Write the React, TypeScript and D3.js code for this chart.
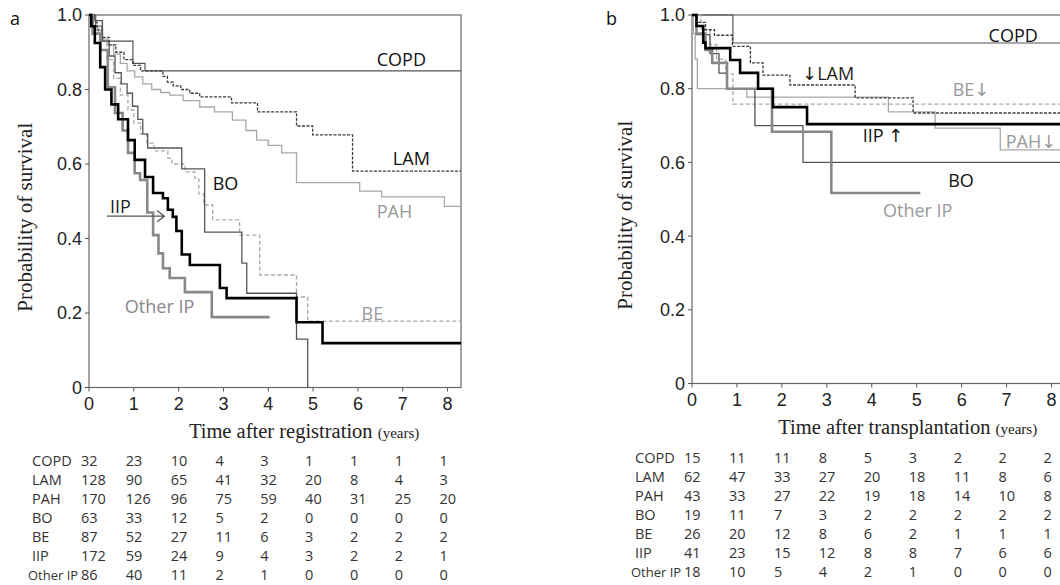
import React from "react";
import * as d3 from "d3";

type Pt = [number, number];

// panel a: survival after registration
const regCOPD: Pt[] = [[0, 1], [0.15, 0.97], [0.29, 0.93], [0.98, 0.87], [1.25, 0.85]];
const regLAM: Pt[] = [[0, 1], [0.08, 0.98], [0.18, 0.96], [0.3, 0.94], [0.45, 0.92], [0.6, 0.9], [0.78, 0.88], [0.98, 0.865], [1.15, 0.85], [1.65, 0.835], [1.75, 0.82], [1.88, 0.81], [2.05, 0.8], [2.25, 0.79], [2.47, 0.78], [3.18, 0.764], [3.76, 0.74], [4.63, 0.702], [4.99, 0.678], [5.88, 0.581]];
const regPAH: Pt[] = [[0, 1], [0.1, 0.97], [0.2, 0.95], [0.3, 0.935], [0.42, 0.92], [0.55, 0.895], [0.7, 0.87], [0.85, 0.85], [1.02, 0.834], [1.2, 0.815], [1.4, 0.8], [1.6, 0.792], [1.8, 0.785], [2.1, 0.77], [2.47, 0.753], [2.8, 0.74], [3.2, 0.718], [3.5, 0.69], [3.74, 0.664], [4.0, 0.65], [4.3, 0.63], [4.63, 0.55], [6.04, 0.527], [6.53, 0.512], [7.93, 0.486]];
const regBO: Pt[] = [[0, 1], [0.13, 0.985], [0.3, 0.93], [0.45, 0.89], [0.58, 0.845], [0.72, 0.815], [0.85, 0.79], [0.97, 0.755], [1.09, 0.72], [1.2, 0.68], [1.31, 0.643], [2.07, 0.587], [2.58, 0.417], [3.41, 0.334], [3.52, 0.253], [4.63, 0.13], [4.88, 0]];
const regBE: Pt[] = [[0, 1], [0.1, 0.97], [0.25, 0.93], [0.4, 0.88], [0.55, 0.83], [0.7, 0.785], [0.87, 0.745], [1.0, 0.71], [1.15, 0.68], [1.29, 0.656], [1.45, 0.635], [1.76, 0.616], [1.85, 0.6], [2.14, 0.579], [2.36, 0.562], [2.45, 0.52], [2.56, 0.49], [2.76, 0.45], [3.36, 0.409], [3.81, 0.302], [4.63, 0.243], [4.88, 0.178]];
const regIIP: Pt[] = [[0, 1], [0.05, 0.97], [0.13, 0.925], [0.25, 0.86], [0.36, 0.8], [0.5, 0.76], [0.65, 0.72], [0.87, 0.664], [1.02, 0.611], [1.25, 0.565], [1.43, 0.522], [1.65, 0.508], [1.76, 0.477], [1.87, 0.458], [1.95, 0.42], [2.07, 0.357], [2.25, 0.329], [2.92, 0.267], [3.07, 0.24], [4.63, 0.175], [5.21, 0.119]];
const regOther: Pt[] = [[0, 1], [0.08, 0.95], [0.25, 0.906], [0.42, 0.806], [0.58, 0.737], [0.75, 0.69], [0.87, 0.63], [1.02, 0.575], [1.14, 0.557], [1.3, 0.47], [1.43, 0.409], [1.55, 0.36], [1.65, 0.32], [1.8, 0.294], [2.14, 0.256], [2.74, 0.189]];

// panel b: survival after transplantation
const txCOPD: Pt[] = [[0, 1], [0.91, 0.924]];
const txLAM: Pt[] = [[0, 1], [0.1, 0.98], [0.3, 0.96], [0.5, 0.945], [0.9, 0.915], [1.3, 0.87], [1.58, 0.837], [2.18, 0.81], [3.63, 0.775], [4.92, 0.734]];
const txPAH: Pt[] = [[0, 1], [0.03, 0.95], [0.07, 0.88], [0.12, 0.8], [1.22, 0.777], [4.37, 0.737], [5.41, 0.693], [6.86, 0.634]];
const txBO: Pt[] = [[0, 1], [0.1, 0.947], [0.4, 0.895], [0.6, 0.842], [0.78, 0.8], [1.4, 0.7], [2.47, 0.6]];
const txBE: Pt[] = [[0, 1], [0.2, 0.96], [0.4, 0.92], [0.55, 0.88], [0.75, 0.84], [0.91, 0.758]];
const txIIP: Pt[] = [[0, 1], [0.1, 0.97], [0.25, 0.925], [0.3, 0.91], [0.85, 0.878], [1.07, 0.843], [1.47, 0.8], [1.8, 0.75], [2.56, 0.704]];
const txOther: Pt[] = [[0, 1], [0.1, 0.95], [0.3, 0.905], [0.45, 0.87], [0.78, 0.8], [1.78, 0.683], [3.1, 0.517]];

// numbers at risk
const groups = ["COPD", "LAM", "PAH", "BO", "BE", "IIP", "Other IP"];
const riskReg = [
  [32, 23, 10, 4, 3, 1, 1, 1, 1],
  [128, 90, 65, 41, 32, 20, 8, 4, 3],
  [170, 126, 96, 75, 59, 40, 31, 25, 20],
  [63, 33, 12, 5, 2, 0, 0, 0, 0],
  [87, 52, 27, 11, 6, 3, 2, 2, 2],
  [172, 59, 24, 9, 4, 3, 2, 2, 1],
  [86, 40, 11, 2, 1, 0, 0, 0, 0],
];
const riskTx = [
  [15, 11, 11, 8, 5, 3, 2, 2, 2],
  [62, 47, 33, 27, 20, 18, 11, 8, 6],
  [43, 33, 27, 22, 19, 18, 14, 10, 8],
  [19, 11, 7, 3, 2, 2, 2, 2, 2],
  [26, 20, 12, 8, 6, 2, 1, 1, 1],
  [41, 23, 15, 12, 8, 8, 7, 6, 6],
  [18, 10, 5, 4, 2, 1, 0, 0, 0],
];
const xTicks = [0, 1, 2, 3, 4, 5, 6, 7, 8];
const yTicks = [0, 0.2, 0.4, 0.6, 0.8, 1.0];

const SANS = "'Open Sans', 'DejaVu Sans', sans-serif";
const SERIF = "'Liberation Serif', 'Times New Roman', serif";
const AXIS_FONT = "'Liberation Sans', Arial, sans-serif";

const styles: Record<string, { stroke: string; width: number; dash?: string }> = {
  COPD: { stroke: "#555", width: 1.2 },
  LAM: { stroke: "#3a3a3a", width: 1.3, dash: "3,1.5" },
  PAH: { stroke: "#a8a8a8", width: 1.3 },
  BO: { stroke: "#555", width: 1.3 },
  BE: { stroke: "#a8a8a8", width: 1.3, dash: "4,2.5" },
  IIP: { stroke: "#000", width: 2.6 },
  "Other IP": { stroke: "#888", width: 2.6 },
};

type Curve = { name: string; pts: Pt[]; end: number };
type Label = { text: string; t: number; p: number; color: string };

interface PanelProps {
  letter: string;
  letterX: number;
  x0: number;
  x1: number;
  yTop: number;
  yBot: number;
  curves: Curve[];
  labels: Label[];
  title: string;
  risk: number[][];
  tableTop: number;
  labelX: number;
  yTitleX: number;
  iipArrow?: boolean;
}

function Panel(props: PanelProps) {
  const { x0, x1, yTop, yBot, curves, labels, risk } = props;
  const x = d3.scaleLinear().domain([0, 8.3]).range([x0, x1]);
  const y = d3.scaleLinear().domain([0, 1]).range([yBot, yTop]);
  const line = d3
    .line<Pt>()
    .x((d) => x(d[0]))
    .y((d) => y(d[1]))
    .curve(d3.curveStepAfter);

  return (
    <g>
      <text x={props.letterX} y={yTop + 10} fontFamily={SANS} fontSize={18} fill="#111">
        {props.letter}
      </text>
      {/* frame */}
      <rect x={x0} y={yTop} width={x1 - x0} height={yBot - yTop} fill="none" stroke="#666" strokeWidth={1.2} />
      {/* curves */}
      {curves.map((c) => {
        const s = styles[c.name];
        const last = c.pts[c.pts.length - 1];
        const pts: Pt[] = [...c.pts, [c.end, last[1]]];
        return (
          <path
            key={c.name}
            d={line(pts) || ""}
            fill="none"
            stroke={s.stroke}
            strokeWidth={s.width}
            strokeDasharray={s.dash}
          />
        );
      })}
      {/* y axis ticks */}
      {yTicks.map((v) => (
        <g key={"y" + v}>
          <line x1={x0 - 4} x2={x0} y1={y(v)} y2={y(v)} stroke="#555" />
          <text
            x={x0 - 7}
            y={y(v)}
            dy="0.36em"
            textAnchor="end"
            fontFamily={AXIS_FONT}
            fontSize={18}
            fill="#222"
          >
            {v === 0 ? "0" : d3.format(".1f")(v)}
          </text>
        </g>
      ))}
      {/* x axis ticks */}
      {xTicks.map((v) => (
        <g key={"x" + v}>
          <line x1={x(v)} x2={x(v)} y1={yBot} y2={yBot + 4} stroke="#555" />
          <text x={x(v)} y={yBot + 22} textAnchor="middle" fontFamily={AXIS_FONT} fontSize={18} fill="#222">
            {v}
          </text>
        </g>
      ))}
      <text
        transform={`translate(${props.yTitleX},${(yTop + yBot) / 2 + 16}) rotate(-90)`}
        textAnchor="middle"
        fontFamily={SERIF}
        fontSize={21}
        fill="#222"
      >
        Probability of survival
      </text>
      <text x={x(4.8)} y={yBot + 50} textAnchor="middle" fontFamily={SERIF} fontSize={20.5} fill="#222">
        {props.title} <tspan fontSize={15}>(years)</tspan>
      </text>
      {/* curve labels */}
      {labels.map((l) => (
        <text key={l.text} x={x(l.t)} y={y(l.p)} fontFamily={SANS} fontSize={18} fill={l.color}>
          {l.text}
        </text>
      ))}
      {props.iipArrow && (
        <path
          d={`M${x(0.4)},${y(0.46)} H${x(1.68)} M${x(1.52)},${y(0.475)} L${x(1.68)},${y(0.46)} L${x(1.52)},${y(0.445)}`}
          fill="none"
          stroke="#555"
          strokeWidth={1.3}
        />
      )}
      {/* at risk table */}
      {groups.map((g, i) => {
        const long = g === "Other IP";
        return (
          <g key={g} fontFamily={SANS} fontSize={14.5} fill="#333">
            <text
              x={long ? x(0) - 61 : props.labelX}
              y={props.tableTop + i * 19}
              fontSize={long ? 13 : undefined}
            >
              {g}
            </text>
            {risk[i].map((n, j) => (
              <text key={j} x={x(xTicks[j]) - 8} y={props.tableTop + i * 19}>
                {n}
              </text>
            ))}
          </g>
        );
      })}
    </g>
  );
}

export default function App() {
  const curvesA: Curve[] = [
    { name: "COPD", pts: regCOPD, end: 8.3 },
    { name: "PAH", pts: regPAH, end: 8.3 },
    { name: "BE", pts: regBE, end: 8.3 },
    { name: "LAM", pts: regLAM, end: 8.3 },
    { name: "BO", pts: regBO, end: 4.88 },
    { name: "Other IP", pts: regOther, end: 4.03 },
    { name: "IIP", pts: regIIP, end: 8.3 },
  ];
  const curvesB: Curve[] = [
    { name: "COPD", pts: txCOPD, end: 8.3 },
    { name: "PAH", pts: txPAH, end: 8.3 },
    { name: "BE", pts: txBE, end: 8.3 },
    { name: "LAM", pts: txLAM, end: 8.3 },
    { name: "BO", pts: txBO, end: 8.3 },
    { name: "Other IP", pts: txOther, end: 5.08 },
    { name: "IIP", pts: txIIP, end: 8.3 },
  ];
  const labelsA: Label[] = [
    { text: "COPD", t: 6.42, p: 0.863, color: "#111" },
    { text: "LAM", t: 6.78, p: 0.598, color: "#111" },
    { text: "PAH", t: 6.42, p: 0.455, color: "#999" },
    { text: "BO", t: 2.76, p: 0.53, color: "#111" },
    { text: "BE", t: 6.08, p: 0.181, color: "#999" },
    { text: "IIP", t: 0.47, p: 0.468, color: "#222" },
    { text: "Other IP", t: 0.8, p: 0.2, color: "#888" },
  ];
  const labelsB: Label[] = [
    { text: "COPD", t: 6.6, p: 0.927, color: "#111" },
    { text: "\u2193LAM", t: 2.45, p: 0.823, color: "#222" },
    { text: "BE\u2193", t: 5.8, p: 0.78, color: "#999" },
    { text: "IIP \u2191", t: 3.8, p: 0.655, color: "#111" },
    { text: "PAH\u2193", t: 6.98, p: 0.64, color: "#999" },
    { text: "BO", t: 5.7, p: 0.533, color: "#111" },
    { text: "Other IP", t: 4.25, p: 0.451, color: "#999" },
  ];
  return (
    <svg
      width={1060}
      height={585}
      style={{ position: "absolute", left: 0, top: 0, background: "#fff" }}
    >
      <Panel
        letter="a"
        letterX={10}
        x0={89}
        x1={461}
        yTop={15}
        yBot={387.5}
        curves={curvesA}
        labels={labelsA}
        title="Time after registration"
        risk={riskReg}
        tableTop={466}
        labelX={32}
        yTitleX={32}
        iipArrow
      />
      <Panel
        letter="b"
        letterX={606}
        x0={692}
        x1={1065}
        yTop={15}
        yBot={383.5}
        curves={curvesB}
        labels={labelsB}
        title="Time after transplantation"
        risk={riskTx}
        tableTop={463}
        labelX={635}
        yTitleX={632}
      />
    </svg>
  );
}
